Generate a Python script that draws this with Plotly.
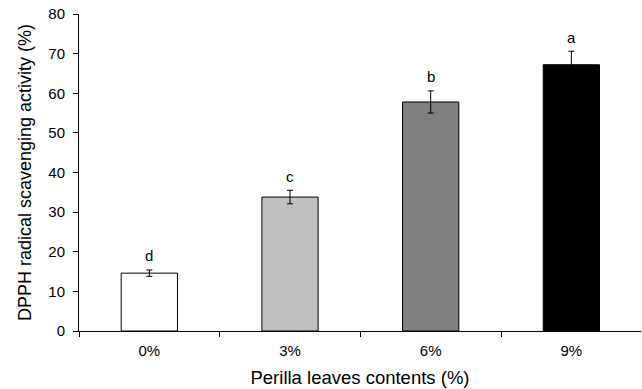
import plotly.graph_objects as go

categories = ["0%", "3%", "6%", "9%"]
values = [14.6, 33.8, 57.8, 67.2]
errors = [0.8, 1.7, 2.8, 3.4]
letters = ["d", "c", "b", "a"]
colors = ["#ffffff", "#c0c0c0", "#808080", "#000000"]

fig = go.Figure()
fig.add_trace(go.Bar(
    x=categories, y=values, width=0.4,
    marker=dict(color=colors, line=dict(color="#000000", width=1)),
    error_y=dict(type="data", array=errors, color="#000000", thickness=1, width=3),
    showlegend=False,
))

for c, v, e, l in zip(categories, values, errors, letters):
    fig.add_annotation(x=c, y=v + e, text=l, showarrow=False, yshift=14,
                       font=dict(family="Liberation Sans, Arial", size=15, color="#000"))

fig.update_layout(
    width=642, height=389,
    margin=dict(l=79, r=1, t=14, b=58),
    plot_bgcolor="white", paper_bgcolor="white",
    font=dict(family="Liberation Sans, Arial", size=15, color="#000"),
    bargap=0.6,
)
fig.update_xaxes(
    type="category", range=[-0.5, 3.495], showline=True, linecolor="#000", linewidth=1,
    ticks="outside", tickson="boundaries", ticklen=5, tickcolor="#000",
    showgrid=False, tickfont=dict(size=15), automargin=False, ticklabelstandoff=6,
    title=dict(text="Perilla leaves contents (%)", font=dict(size=18.5), standoff=13),
)
fig.update_yaxes(
    range=[0, 80], dtick=10, showline=True, linecolor="#000", linewidth=1,
    ticks="outside", ticklen=5, tickcolor="#000", showgrid=False, zeroline=False,
    tickfont=dict(size=15), automargin=False, ticklabelstandoff=5,
    title=dict(text="DPPH radical scavenging activity (%)", font=dict(size=18), standoff=12),
)

fig.write_html("out.html", config={"displayModeBar": False},
               post_script="document.body.style.margin='0';")
